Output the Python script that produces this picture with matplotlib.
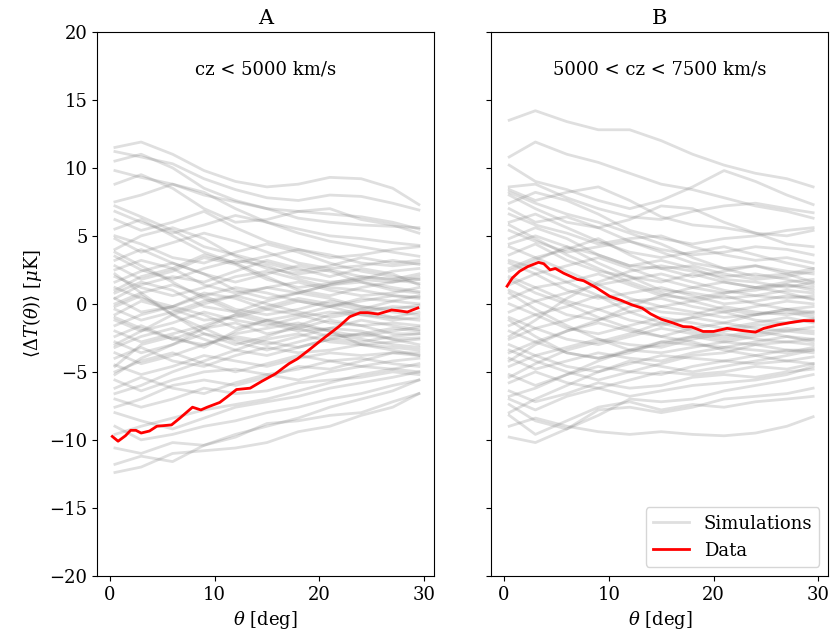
import numpy as np
import matplotlib
matplotlib.use("Agg")
import matplotlib.pyplot as plt

plt.rcParams['font.family'] = 'DejaVu Serif'
plt.rcParams['mathtext.fontset'] = 'dejavuserif'
plt.rcParams['font.size'] = 13

# simulation nodes (theta in deg)
theta_nodes = [0.5, 3, 6, 9, 12, 15, 18, 21, 24, 27, 29.5]

# panel A simulations (values in muK at theta_nodes)
sims_a = [
    [11.5, 11.9, 11.0, 9.8, 9.0, 8.6, 8.8, 9.3, 9.2, 8.5, 7.3],
    [11.2, 10.8, 10.3, 9.2, 8.4, 7.8, 7.6, 8.0, 7.9, 7.4, 6.9],
    [10.5, 11.0, 10.0, 8.5, 7.6, 7.0, 6.8, 6.6, 6.4, 6.0, 5.5],
    [9.8, 9.3, 8.8, 8.0, 7.5, 7.0, 6.3, 6.0, 5.8, 5.7, 5.6],
    [8.8, 9.5, 8.5, 7.0, 6.0, 6.2, 6.8, 7.0, 6.2, 5.8, 5.2],
    [7.5, 8.0, 8.8, 8.2, 7.0, 6.0, 5.5, 5.0, 4.8, 4.5, 4.3],
    [6.8, 6.0, 5.2, 5.8, 6.5, 6.0, 5.2, 4.6, 4.2, 3.8, 3.5],
    [5.5, 6.2, 5.0, 3.8, 3.0, 3.5, 4.0, 3.6, 3.0, 2.8, 3.0],
    [4.8, 3.8, 4.5, 5.2, 4.6, 3.8, 3.0, 2.6, 2.8, 3.2, 2.9],
    [4.0, 5.0, 5.6, 4.8, 3.5, 2.6, 2.2, 2.5, 2.0, 1.8, 2.2],
    [3.5, 2.5, 1.8, 2.6, 3.2, 2.8, 2.0, 1.6, 1.8, 2.4, 2.6],
    [3.2, 4.0, 3.0, 2.2, 1.6, 2.2, 2.8, 2.4, 1.6, 1.0, 0.8],
    [2.8, 1.8, 2.4, 3.4, 2.9, 1.8, 1.2, 1.5, 2.0, 1.8, 1.5],
    [2.5, 3.2, 2.6, 1.4, 0.8, 1.2, 1.6, 1.0, 0.6, 0.8, 1.2],
    [2.0, 1.2, 0.6, 1.2, 2.0, 2.4, 1.8, 1.2, 1.0, 0.6, 0.4],
    [1.6, 2.4, 3.0, 2.2, 1.0, 0.4, 0.8, 1.4, 1.6, 1.2, 0.9],
    [1.2, 0.4, -0.2, 0.6, 1.2, 0.8, 0.2, -0.2, 0.2, 0.6, 0.5],
    [0.8, 1.6, 1.0, -0.2, -0.6, 0.2, 0.8, 0.4, -0.2, -0.4, -0.1],
    [0.4, -0.6, -0.2, 0.8, 0.4, -0.4, -0.8, -0.2, 0.4, 0.2, 0.0],
    [0.0, 0.8, 1.4, 0.6, -0.4, -0.8, -0.4, 0.2, -0.2, -0.6, -0.8],
    [-0.4, -1.2, -0.6, 0.2, 0.6, 0.0, -0.6, -1.0, -0.6, -0.2, -0.3],
    [-0.8, 0.2, -0.4, -1.2, -1.0, -0.4, 0.2, -0.2, -0.8, -1.0, -1.2],
    [-1.2, -2.0, -1.4, -0.6, -1.2, -1.6, -1.0, -0.6, -0.8, -1.2, -1.0],
    [-1.6, -0.8, -0.2, -0.8, -1.8, -1.2, -0.8, -1.4, -1.6, -1.4, -1.6],
    [-2.0, -2.8, -2.2, -1.6, -0.8, -1.4, -2.0, -1.8, -1.2, -1.6, -1.9],
    [-2.4, -1.6, -2.6, -3.0, -2.2, -1.8, -1.4, -2.0, -2.4, -2.0, -1.7],
    [-2.8, -3.6, -3.0, -2.2, -2.6, -3.0, -2.4, -1.8, -2.0, -2.6, -2.5],
    [-3.2, -2.4, -1.8, -2.6, -3.4, -2.6, -2.2, -2.8, -3.0, -2.8, -2.6],
    [-3.6, -4.4, -3.8, -3.0, -2.4, -2.8, -3.2, -2.6, -2.2, -2.6, -3.0],
    [-4.0, -3.2, -4.2, -4.6, -3.8, -3.2, -3.6, -3.4, -3.0, -3.2, -3.4],
    [-4.5, -5.2, -4.6, -3.8, -4.2, -4.6, -4.0, -3.6, -3.8, -3.6, -3.8],
    [-5.0, -4.2, -3.6, -4.4, -5.0, -4.4, -3.8, -4.2, -4.6, -4.2, -4.0],
    [-5.6, -6.4, -5.6, -5.0, -4.8, -5.2, -4.8, -4.2, -4.0, -4.4, -4.6],
    [-6.2, -5.4, -6.2, -6.6, -5.8, -5.2, -5.6, -5.0, -4.6, -4.8, -5.0],
    [-7.0, -7.6, -7.0, -6.2, -6.6, -6.4, -5.8, -5.6, -5.4, -5.0, -5.2],
    [-8.0, -8.6, -9.2, -8.4, -7.6, -7.2, -6.8, -6.2, -5.8, -5.4, -5.0],
    [-9.0, -10.0, -9.6, -9.0, -8.6, -8.0, -7.6, -7.0, -6.6, -6.0, -5.6],
    [-10.6, -11.0, -10.2, -10.4, -9.8, -8.8, -8.6, -8.2, -8.0, -7.2, -6.6],
    [-12.4, -12.0, -11.0, -10.8, -10.6, -10.2, -9.4, -9.0, -8.2, -7.6, -6.6],
    [-11.8, -11.2, -11.6, -10.4, -9.6, -9.0, -8.4, -7.6, -7.0, -6.4, -5.6],
    [-9.6, -9.0, -8.4, -7.8, -7.4, -7.0, -6.4, -5.8, -5.2, -4.8, -4.4],
    [6.2, 5.4, 6.0, 6.8, 5.6, 4.6, 4.0, 3.4, 3.6, 4.0, 4.2],
    [5.0, 4.4, 3.4, 3.0, 3.8, 4.4, 3.8, 3.0, 2.4, 2.0, 1.8],
    [1.0, 2.0, 2.6, 3.6, 3.0, 2.0, 1.0, 0.6, 1.2, 1.6, 1.8],
    [-0.2, 0.6, -0.8, -1.8, -1.4, -2.2, -1.8, -1.2, -1.6, -2.2, -2.2],
    [-1.0, -1.8, -2.6, -1.8, -2.8, -3.4, -2.8, -2.2, -2.6, -3.0, -3.2],
    [-3.0, -2.0, -0.8, 0.0, 0.6, 1.2, 0.8, 1.4, 1.8, 1.6, 2.0],
    [-5.2, -4.0, -3.0, -1.8, -0.8, -0.2, 0.4, 0.0, -0.4, 0.2, 0.6],
    [3.8, 2.8, 1.6, 0.4, -0.6, -1.2, -1.8, -2.4, -2.2, -1.8, -2.0],
    [-6.6, -6.0, -5.0, -4.2, -3.4, -3.8, -3.2, -2.6, -2.8, -2.4, -2.2],
    [7.2, 6.4, 5.4, 4.2, 3.6, 3.0, 2.4, 2.8, 3.4, 3.0, 3.2],
    [-7.6, -7.0, -6.0, -5.6, -6.0, -5.4, -4.6, -4.8, -4.2, -3.6, -3.6],
    [2.2, 0.8, -0.8, -2.2, -3.0, -2.4, -1.6, -2.0, -3.0, -3.4, -3.8],
    [-4.6, -3.0, -2.4, -3.2, -2.0, -1.2, -1.6, -0.8, -0.4, -1.0, -0.6],
    [0.4, 1.4, 2.0, 1.6, 2.4, 3.2, 2.6, 2.0, 2.6, 2.2, 1.4],
]

# panel B simulations
sims_b = [
    [13.5, 14.2, 13.4, 12.8, 12.8, 12.0, 11.0, 10.2, 9.6, 9.2, 8.6],
    [10.8, 11.9, 11.0, 10.4, 9.6, 8.8, 8.4, 7.8, 7.2, 6.8, 6.3],
    [10.2, 9.0, 8.4, 7.6, 7.0, 7.6, 8.6, 9.8, 9.0, 8.0, 7.3],
    [8.6, 8.8, 7.8, 7.0, 6.4, 6.2, 6.8, 7.2, 7.4, 7.0, 6.7],
    [8.4, 7.6, 8.2, 8.6, 7.6, 6.4, 5.8, 5.6, 5.2, 5.0, 5.4],
    [8.0, 7.0, 6.0, 5.6, 6.2, 7.2, 7.0, 6.0, 5.2, 4.4, 4.2],
    [7.4, 8.2, 7.6, 6.6, 5.4, 4.8, 4.4, 4.8, 5.0, 5.4, 5.6],
    [6.6, 5.8, 5.2, 4.4, 4.8, 5.0, 4.2, 3.6, 3.2, 3.4, 3.0],
    [6.0, 6.6, 5.6, 4.6, 3.8, 3.4, 3.8, 4.2, 3.6, 3.0, 2.6],
    [5.4, 4.6, 3.8, 4.2, 4.6, 3.8, 3.0, 2.6, 2.8, 2.4, 2.2],
    [4.8, 5.6, 4.8, 3.6, 2.8, 2.6, 2.8, 2.2, 1.8, 2.0, 2.4],
    [4.2, 3.4, 4.0, 4.8, 3.6, 2.6, 2.0, 2.4, 2.8, 2.2, 1.6],
    [3.6, 4.4, 3.2, 2.4, 2.0, 1.6, 2.2, 1.6, 1.2, 1.4, 1.2],
    [3.0, 2.2, 2.8, 3.4, 2.6, 1.8, 1.2, 0.8, 1.0, 1.4, 1.0],
    [2.6, 3.4, 2.4, 1.4, 1.8, 2.2, 1.6, 1.0, 0.6, 0.4, 0.6],
    [2.0, 1.2, 1.6, 2.2, 1.4, 0.6, 0.4, 0.8, 1.2, 0.8, 0.3],
    [1.4, 2.2, 1.0, 0.4, 0.8, 1.2, 0.6, 0.0, 0.2, 0.6, 0.4],
    [1.0, 0.2, 0.8, 1.4, 0.4, -0.2, 0.2, 0.6, 0.0, -0.4, -0.2],
    [0.4, 1.2, 0.2, -0.4, 0.2, 0.4, -0.2, -0.6, -0.2, 0.2, 0.0],
    [0.0, -0.8, -0.2, 0.6, 0.0, -0.6, -0.8, -0.2, -0.6, -0.8, -0.6],
    [-0.6, 0.2, -0.8, -1.2, -0.6, -0.2, -0.6, -1.0, -0.8, -0.4, -0.8],
    [-1.0, -1.8, -1.2, -0.4, -1.2, -1.6, -1.0, -0.6, -1.2, -1.4, -1.1],
    [-1.6, -0.8, -1.8, -2.2, -1.6, -1.0, -1.4, -1.8, -1.4, -1.0, -1.4],
    [-2.0, -2.8, -2.0, -1.4, -2.0, -2.4, -1.8, -1.4, -1.8, -2.0, -1.7],
    [-2.6, -1.8, -2.6, -3.0, -2.4, -1.8, -2.2, -2.6, -2.2, -1.8, -2.0],
    [-3.0, -3.8, -3.2, -2.6, -3.0, -3.2, -2.6, -2.2, -2.6, -2.8, -2.6],
    [-3.6, -2.8, -3.6, -4.0, -3.4, -2.8, -3.0, -3.2, -2.8, -2.4, -2.8],
    [-4.0, -4.8, -4.2, -3.6, -4.0, -4.2, -3.6, -3.2, -3.4, -3.6, -3.2],
    [-4.6, -3.8, -4.6, -5.0, -4.4, -3.8, -4.0, -4.2, -3.8, -3.4, -3.6],
    [-5.2, -6.0, -5.2, -4.6, -5.0, -5.2, -4.6, -4.2, -4.4, -4.2, -3.9],
    [-5.8, -5.0, -5.8, -6.2, -5.6, -5.0, -5.2, -5.0, -4.6, -4.8, -4.4],
    [-6.4, -7.2, -6.6, -5.8, -6.2, -6.0, -5.4, -5.2, -5.4, -5.0, -4.8],
    [-7.4, -8.6, -9.2, -8.2, -7.0, -7.2, -7.0, -6.4, -6.0, -5.6, -5.2],
    [-9.8, -10.2, -9.2, -7.8, -7.6, -8.0, -7.6, -7.0, -6.8, -6.6, -6.2],
    [-9.0, -8.4, -9.0, -9.4, -9.6, -9.4, -9.6, -9.7, -9.5, -9.0, -8.3],
    [-8.2, -9.6, -8.6, -7.6, -7.2, -7.8, -7.4, -7.6, -7.2, -7.0, -6.8],
    [-7.0, -7.8, -6.8, -6.2, -6.8, -6.4, -6.0, -5.8, -5.6, -5.2, -4.6],
    [7.0, 6.0, 6.4, 5.6, 4.6, 4.0, 3.6, 3.8, 4.2, 4.0, 3.6],
    [5.8, 4.8, 3.6, 2.6, 1.6, 0.8, 0.2, -0.4, -0.8, -0.6, -1.0],
    [-4.2, -3.0, -2.0, -1.2, -0.2, 0.6, 1.2, 1.6, 1.2, 1.6, 1.8],
    [3.2, 2.6, 1.6, 0.6, -0.6, -1.4, -2.0, -2.4, -2.0, -2.4, -2.6],
    [-2.4, -1.2, 0.4, 1.6, 2.4, 2.8, 2.4, 2.0, 2.2, 1.8, 1.4],
    [0.8, -0.4, -1.6, -2.6, -3.4, -3.6, -3.2, -2.8, -3.0, -3.4, -3.4],
    [-5.4, -4.4, -3.4, -2.8, -2.2, -1.4, -1.0, -1.4, -0.8, -0.4, -0.6],
    [4.4, 5.0, 4.2, 3.0, 2.0, 1.0, 0.8, 0.4, 0.6, 1.0, 0.8],
    [-1.2, -2.4, -3.6, -4.0, -3.6, -2.8, -2.4, -2.0, -1.6, -1.4, -1.2],
    [-6.8, -6.2, -5.2, -4.2, -3.4, -3.0, -2.4, -2.8, -2.4, -2.0, -2.2],
    [2.4, 3.2, 4.2, 3.6, 2.8, 3.2, 2.6, 1.8, 1.6, 1.2, 1.6],
    [-3.4, -4.2, -5.0, -5.6, -5.0, -4.4, -3.8, -3.6, -3.0, -2.8, -3.0],
    [1.8, 0.8, 0.0, -1.0, -1.8, -2.4, -2.8, -3.4, -3.8, -4.2, -4.4],
    [-8.0, -7.0, -6.0, -5.0, -4.2, -4.6, -5.0, -4.6, -4.2, -3.8, -3.4],
    [8.2, 7.4, 6.6, 6.0, 5.2, 4.4, 3.4, 2.6, 2.0, 2.2, 2.6],
]

# measured data
theta_a = [0.25, 0.8, 1.5, 2.0, 2.5, 3.0, 3.8, 4.5, 5.9, 6.7, 7.9, 8.7, 9.3,
           10.5, 11.1, 12.1, 13.4, 14.5, 15.8, 17.1, 17.9, 19.0, 20.3, 21.9,
           22.9, 23.9, 24.6, 25.6, 26.9, 27.5, 28.4, 29.4]
data_a = [-9.75, -10.1, -9.7, -9.3, -9.3, -9.5, -9.35, -9.0, -8.9, -8.4, -7.6,
          -7.8, -7.6, -7.25, -6.9, -6.3, -6.2, -5.7, -5.15, -4.4, -4.05, -3.4,
          -2.6, -1.65, -0.95, -0.65, -0.65, -0.75, -0.45, -0.5, -0.6, -0.3]

theta_b = [0.3, 0.8, 1.5, 2.3, 3.3, 3.8, 4.4, 4.9, 5.7, 7.0, 7.6, 8.8, 10.1,
           11.2, 12.2, 13.2, 14.0, 15.0, 16.0, 17.1, 17.9, 19.0, 20.0, 21.3,
           22.6, 24.0, 24.8, 26.1, 27.4, 28.6, 29.5]
data_b = [1.3, 1.9, 2.4, 2.75, 3.05, 2.95, 2.5, 2.6, 2.25, 1.8, 1.7, 1.2,
          0.55, 0.25, -0.07, -0.32, -0.74, -1.13, -1.37, -1.67, -1.7, -2.03,
          -2.03, -1.8, -1.95, -2.08, -1.8, -1.55, -1.37, -1.23, -1.25]

titles = ['A', 'B']
notes = ['cz < 5000 km/s', '5000 < cz < 7500 km/s']

fig, axes = plt.subplots(1, 2, figsize=(8.3, 6.37), dpi=100, sharey=True)
fig.subplots_adjust(left=0.117, right=0.998, bottom=0.096, top=0.950, wspace=0.17)

for ax, sims, th, dat, title, note in zip(axes, [sims_a, sims_b], [theta_a, theta_b],
                                          [data_a, data_b], titles, notes):
    for i, s in enumerate(sims):
        ax.plot(theta_nodes, s, color='gray', alpha=0.25, lw=2,
                label='Simulations' if i == 0 else None)
    ax.plot(th, dat, color='red', lw=2, label='Data')
    ax.set_title(title, fontsize=15)
    ax.text(0.5, 0.93, note, transform=ax.transAxes, ha='center', va='center')
    ax.set_xlabel(r'$\theta$ [deg]')
    ax.set_ylim(-20, 20)
    ax.set_xlim(-1.2, 30.95)
    ax.set_xticks([0, 10, 20, 30])

axes[0].set_ylabel(r'$\langle\Delta T(\theta)\rangle$ [$\mu$K]')
axes[1].legend(loc='lower right')

plt.savefig('out.png')
